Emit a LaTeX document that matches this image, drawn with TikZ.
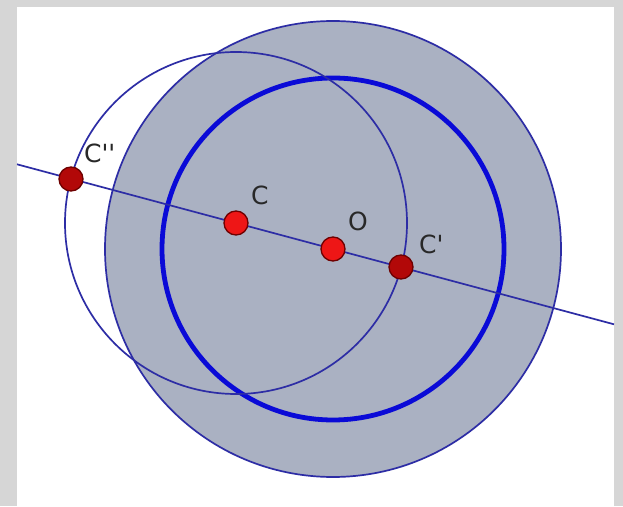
\documentclass[tikz,border=0pt]{standalone}
\usepackage{fontspec}
\newfontfamily\lblfont{DejaVu Sans}
\usetikzlibrary{positioning}
\definecolor{marble}{RGB}{214,214,214}
\definecolor{discfill}{RGB}{170,177,194}
\definecolor{geoblue}{RGB}{45,45,165}
\definecolor{ringblue}{RGB}{10,10,215}
\definecolor{ptred}{RGB}{238,22,22}
\definecolor{ptdark}{RGB}{178,8,8}
\definecolor{ptedge}{RGB}{110,0,0}
\definecolor{lblgray}{RGB}{40,40,40}

\begin{document}
\begin{tikzpicture}[x=1pt, y=1pt,
  thinline/.style={draw=geoblue, line width=1.7pt},
  bigdisc/.style={draw=geoblue, fill=discfill, line width=1.7pt},
  thickring/.style={draw=ringblue, line width=4.8pt},
  brightpt/.style={circle, draw=ptedge, line width=1.3pt, fill=ptred, minimum size=24pt, inner sep=0pt},
  darkpt/.style={circle, draw=ptedge, line width=1.3pt, fill=ptdark, minimum size=24pt, inner sep=0pt},
  lbl/.style={inner sep=0pt, text=lblgray, font=\lblfont\fontsize{25}{25}\selectfont}
]
  \fill[marble] (0,0) rectangle (623,506);
  \fill[white] (17,0) rectangle (614,499);
  \useasboundingbox (0,0) rectangle (623,506);

  \coordinate (O) at (333,257);
  \coordinate (C) at (236,283);
  \coordinate (C1) at (401,239);
  \coordinate (C2) at (71,327);
  \coordinate (Lw) at (17,341.7);
  \coordinate (Le) at (614,181.7);

  \draw[bigdisc] (O) circle[radius=228pt];
  \draw[thickring] (O) circle[radius=171pt];
  \draw[thinline] (C) circle[radius=171pt];
  \draw[thinline] (Lw) -- (Le);

  \node[darkpt] (C2dot) at (C2) {};
  \node[brightpt] (Cdot) at (C) {};
  \node[brightpt] (Odot) at (O) {};
  \node[darkpt] (C1dot) at (C1) {};

  \node[lbl, above right=7pt and 4pt of C2dot] (C2lbl) {C\textquotesingle\textquotesingle};
  \node[lbl, above right=9pt and 6pt of Cdot] (Clbl) {C};
  \node[lbl, above right=9pt and 6pt of Odot] (Olbl) {O};
  \node[lbl, above right=4pt and 9pt of C1dot] (C1lbl) {C\textquotesingle};
\end{tikzpicture}
\end{document}
